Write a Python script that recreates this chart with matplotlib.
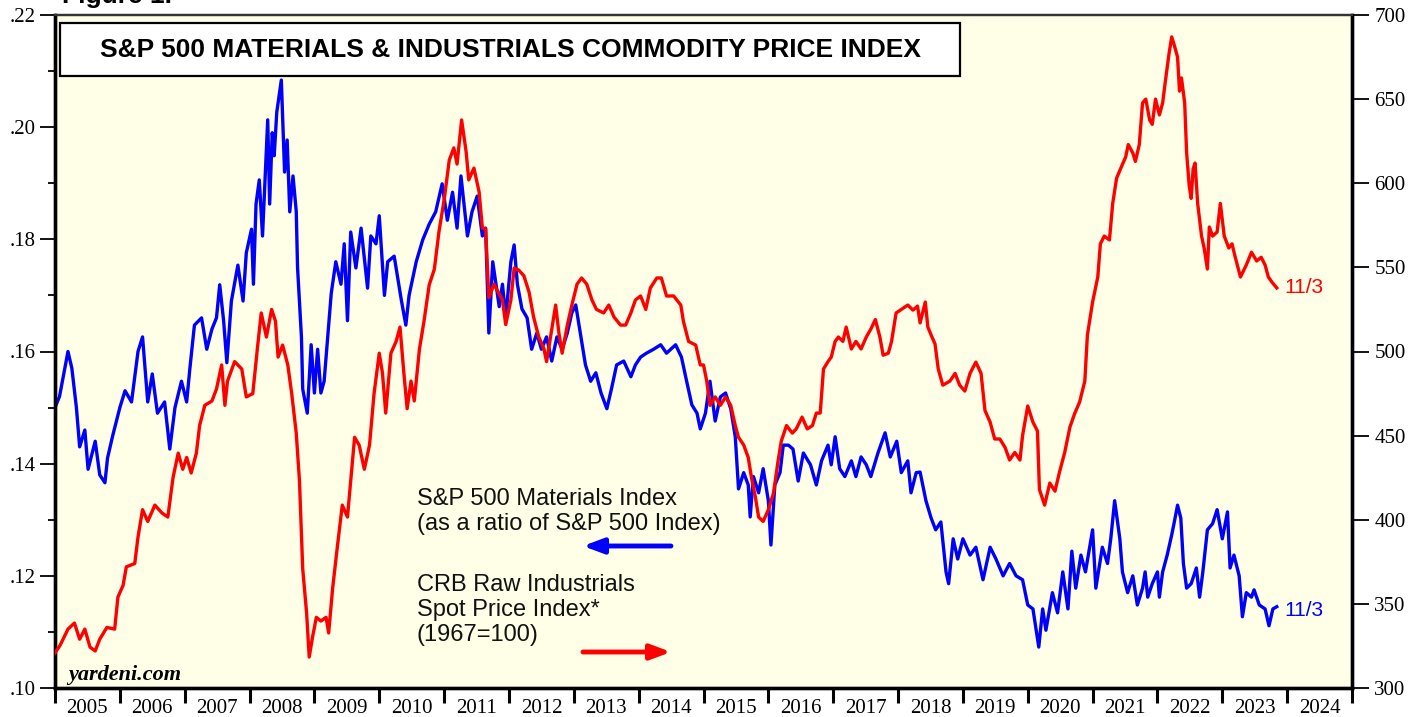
import numpy as np
import matplotlib.pyplot as plt
from matplotlib.ticker import FixedLocator, FuncFormatter, NullLocator
from matplotlib.patches import Rectangle

# S&P 500 Materials Index as ratio of S&P 500 (left axis)
blue_t = [
    2005.00, 2005.07, 2005.20, 2005.26, 2005.33, 2005.38, 2005.46, 2005.51, 2005.62, 2005.69, 2005.77, 2005.81, 2005.89,
    2006.00, 2006.08, 2006.18, 2006.28, 2006.35, 2006.43, 2006.50, 2006.58, 2006.69, 2006.77, 2006.85, 2006.95,
    2007.03, 2007.08, 2007.15, 2007.26, 2007.34, 2007.42, 2007.49, 2007.54, 2007.60, 2007.65, 2007.72, 2007.82, 2007.90, 2007.95,
    2008.03, 2008.06, 2008.10, 2008.15, 2008.20, 2008.28, 2008.31, 2008.35, 2008.38, 2008.42, 2008.49, 2008.54, 2008.58,
    2008.62, 2008.67, 2008.72, 2008.74, 2008.80, 2008.82, 2008.89, 2008.95,
    2009.00, 2009.05, 2009.10, 2009.15, 2009.20, 2009.26, 2009.33, 2009.41, 2009.46, 2009.51, 2009.56, 2009.64, 2009.72,
    2009.82, 2009.87, 2009.95,
    2010.00, 2010.08, 2010.13, 2010.23, 2010.34, 2010.41, 2010.46, 2010.57, 2010.67, 2010.77, 2010.87, 2010.97,
    2011.05, 2011.13, 2011.20, 2011.26, 2011.36, 2011.43, 2011.51, 2011.59, 2011.64, 2011.69, 2011.75, 2011.85, 2011.90, 2011.95,
    2012.03, 2012.08, 2012.13, 2012.20, 2012.28, 2012.35, 2012.43, 2012.50, 2012.58, 2012.66, 2012.74, 2012.82, 2012.90, 2012.97,
    2013.03, 2013.10, 2013.18, 2013.26, 2013.34, 2013.42, 2013.51, 2013.58, 2013.66, 2013.77, 2013.88, 2013.95,
    2014.03, 2014.12, 2014.23, 2014.34, 2014.43, 2014.57, 2014.66, 2014.74, 2014.82, 2014.90, 2014.95,
    2015.03, 2015.10, 2015.18, 2015.26, 2015.34, 2015.42, 2015.49, 2015.54, 2015.62, 2015.69, 2015.72, 2015.77, 2015.85, 2015.92,
    2016.00, 2016.04, 2016.10, 2016.18, 2016.23, 2016.31, 2016.38, 2016.46, 2016.54, 2016.65, 2016.74, 2016.82, 2016.92, 2016.97,
    2017.03, 2017.10, 2017.18, 2017.28, 2017.35, 2017.43, 2017.51, 2017.58, 2017.69, 2017.80, 2017.88, 2017.98,
    2018.05, 2018.15, 2018.20, 2018.28, 2018.34, 2018.43, 2018.51, 2018.58, 2018.66, 2018.74, 2018.78, 2018.85, 2018.92,
    2019.00, 2019.11, 2019.20, 2019.31, 2019.42, 2019.51, 2019.62, 2019.72, 2019.82, 2019.92,
    2020.00, 2020.08, 2020.17, 2020.23, 2020.28, 2020.38, 2020.46, 2020.54, 2020.62, 2020.68, 2020.74, 2020.82, 2020.89,
    2021.00, 2021.05, 2021.15, 2021.23, 2021.28, 2021.34, 2021.42, 2021.46, 2021.54, 2021.62, 2021.69, 2021.77, 2021.81,
    2021.85, 2021.92,
    2022.00, 2022.03, 2022.08, 2022.15, 2022.22, 2022.26, 2022.31, 2022.36, 2022.40, 2022.45, 2022.52, 2022.60, 2022.65,
    2022.70, 2022.77, 2022.85, 2022.92,
    2023.00, 2023.08, 2023.12, 2023.18, 2023.26, 2023.31, 2023.37, 2023.45, 2023.49, 2023.57, 2023.66, 2023.72, 2023.78, 2023.84,
]
blue_v = [
    .150, .152, .160, .157, .150, .143, .146, .139, .144, .138, .1366, .141, .145,
    .150, .153, .151, .160, .1626, .151, .156, .149, .151, .1426, .150, .1547,
    .151, .157, .1647, .166, .1604, .164, .166, .1719, .1655, .158, .169, .1754, .169, .1776,
    .1818, .172, .1863, .1906, .1806, .2013, .1863, .199, .1949, .2027, .2084, .192, .1977,
    .1849, .1913, .185, .175, .1626, .1533, .149, .1612,
    .1526, .1604, .1526, .1547, .1619, .1704, .176, .172, .1792, .1655, .1813, .1749, .182,
    .1713, .1806, .1792,
    .1842, .170, .176, .177, .1692, .1647, .170, .176, .1799, .1827, .1849, .1899,
    .1834, .1884, .182, .1913, .1806, .1849, .1877, .1806, .182, .1633, .176, .168, .172, .166,
    .176, .179, .172, .1676, .166, .1604, .1633, .1604, .1626, .1583, .1626, .1604, .1633, .1669,
    .1683, .1633, .1576, .1547, .1562, .1526, .1498, .1533, .1576, .1583, .1555, .1576,
    .159, .1597, .1604, .1612, .1597, .1612, .159, .1547, .1505, .149, .1462,
    .149, .1547, .1476, .1519, .1526, .1498, .1448, .1355, .1384, .1362, .1305, .1377, .1348, .1391,
    .1334, .1255, .1362, .1384, .1433, .1433, .1426, .1369, .1419, .1398, .1362, .1405, .1433, .1398,
    .1448, .1391, .1377, .1405, .1377, .1412, .1398, .1377, .1419, .1455, .1412, .144,
    .1384, .1405, .1348, .1384, .1385, .1334, .1303, .1282, .1296, .1207, .1186, .1266, .123,
    .1266, .1237, .1251, .1193, .1251, .123, .120, .1222, .120, .1193,
    .1148, .1141, .1073, .1141, .1103, .117, .1134, .1207, .1141, .1244, .1178, .1237, .1207,
    .1282, .1178, .1251, .1222, .1266, .1334, .1266, .1207, .117, .120, .1148, .1178, .1207,
    .1162, .1186,
    .1207, .1162, .1207, .1237, .1273, .1296, .1326, .1303, .1222, .1178, .1186, .1214, .1162,
    .1207, .1282, .1293, .1318,
    .1266, .1314, .1214, .1237, .120, .1127, .117, .1162, .1175, .1148, .1141, .1111, .1141, .1145,
]

# CRB Raw Industrials Spot Price Index (right axis)
red_t = [
    2005.00, 2005.08, 2005.20, 2005.30, 2005.38, 2005.46, 2005.54, 2005.62, 2005.69, 2005.80, 2005.92, 2005.97,
    2006.05, 2006.10, 2006.23, 2006.28, 2006.35, 2006.43, 2006.54, 2006.65, 2006.74, 2006.82, 2006.90, 2006.97,
    2007.03, 2007.10, 2007.18, 2007.23, 2007.31, 2007.42, 2007.49, 2007.57, 2007.62, 2007.66, 2007.77, 2007.88, 2007.95,
    2008.05, 2008.12, 2008.18, 2008.26, 2008.34, 2008.40, 2008.44, 2008.51, 2008.59, 2008.65, 2008.72, 2008.77, 2008.82,
    2008.88, 2008.92, 2008.97,
    2009.03, 2009.10, 2009.18, 2009.22, 2009.28, 2009.35, 2009.43, 2009.51, 2009.56, 2009.62, 2009.69, 2009.77, 2009.85, 2009.92,
    2010.00, 2010.05, 2010.10, 2010.18, 2010.26, 2010.32, 2010.38, 2010.43, 2010.49, 2010.54, 2010.62, 2010.69, 2010.77,
    2010.85, 2010.92,
    2011.00, 2011.08, 2011.15, 2011.20, 2011.27, 2011.34, 2011.38, 2011.46, 2011.54, 2011.59, 2011.64, 2011.69, 2011.77,
    2011.90, 2011.95,
    2012.03, 2012.08, 2012.15, 2012.23, 2012.31, 2012.38, 2012.46, 2012.54, 2012.58, 2012.65, 2012.72, 2012.77, 2012.82,
    2012.90, 2012.97,
    2013.05, 2013.12, 2013.20, 2013.28, 2013.35, 2013.46, 2013.54, 2013.62, 2013.72, 2013.80, 2013.88, 2013.95,
    2014.03, 2014.11, 2014.18, 2014.28, 2014.35, 2014.43, 2014.54, 2014.65, 2014.69, 2014.77, 2014.88, 2014.95,
    2015.00, 2015.05, 2015.10, 2015.18, 2015.26, 2015.34, 2015.42, 2015.49, 2015.54, 2015.62, 2015.69, 2015.74, 2015.80,
    2015.85, 2015.92,
    2016.00, 2016.08, 2016.15, 2016.20, 2016.28, 2016.37, 2016.43, 2016.52, 2016.60, 2016.68, 2016.74, 2016.80, 2016.85,
    2016.92, 2016.97,
    2017.03, 2017.08, 2017.15, 2017.20, 2017.28, 2017.35, 2017.43, 2017.51, 2017.58, 2017.65, 2017.72, 2017.77, 2017.85,
    2017.90, 2017.97,
    2018.05, 2018.15, 2018.23, 2018.30, 2018.34, 2018.42, 2018.46, 2018.51, 2018.57, 2018.62, 2018.69, 2018.80, 2018.88, 2018.95,
    2019.03, 2019.11, 2019.20, 2019.28, 2019.34, 2019.42, 2019.49, 2019.57, 2019.65, 2019.72, 2019.80, 2019.88, 2019.92,
    2020.00, 2020.08, 2020.15, 2020.18, 2020.26, 2020.34, 2020.42, 2020.49, 2020.57, 2020.65, 2020.72, 2020.80, 2020.88, 2020.92,
    2021.00, 2021.08, 2021.12, 2021.18, 2021.26, 2021.31, 2021.37, 2021.43, 2021.51, 2021.55, 2021.62, 2021.66, 2021.72,
    2021.77, 2021.82, 2021.88, 2021.92, 2021.97,
    2022.03, 2022.08, 2022.12, 2022.18, 2022.22, 2022.26, 2022.31, 2022.34, 2022.37, 2022.42, 2022.45, 2022.49, 2022.52,
    2022.55, 2022.58, 2022.62, 2022.68, 2022.72, 2022.77, 2022.80, 2022.85, 2022.92, 2022.97,
    2023.03, 2023.10, 2023.15, 2023.20, 2023.28, 2023.37, 2023.45, 2023.53, 2023.60, 2023.66, 2023.71, 2023.77, 2023.84,
]
red_v = [
    320.8, 325.5, 335, 338.6, 329, 335, 324.3, 322, 329, 336, 335, 354,
    361, 372, 374, 389.7, 406, 399, 408.7, 404, 401.6, 425, 439.6, 430,
    437, 427.8, 439.6, 456, 468, 470.6, 477.7, 492, 468, 482.4, 494, 489.6, 473,
    475, 501.5, 522.9, 508.6, 525, 518, 496.7, 503.8, 492, 475, 451.5, 423, 370.7,
    344.5, 318.4, 330,
    342, 339.8, 342, 332.7, 358.8, 382.6, 408.7, 401.6, 423, 449, 444.4, 430, 444.4, 475,
    499, 487, 463.4, 499, 506, 514.5, 487, 466, 482.4, 470.6, 501.5, 518, 539.5,
    549, 571,
    590, 613.8, 621, 611.4, 637.6, 618.6, 602, 609, 594.8, 573.4, 573, 532, 540,
    530.6, 516,
    530.6, 549.6, 548.4, 545, 535.3, 520.5, 508.6, 501.5, 494, 511, 527.6, 511, 499,
    515.7, 527.6,
    540, 543.7, 540, 530.6, 525, 522.9, 527.6, 520.5, 515.7, 515.7, 522.9, 530.6,
    533, 525, 537.7, 543.7, 543.7, 533, 533, 527.6, 518, 506, 503.8, 492,
    492, 482.4, 468, 473, 468, 473, 468, 456, 449, 444.4, 437, 425, 413.5,
    401.6, 399,
    406, 415.9, 435, 446.8, 456, 451.5, 454, 461, 454, 456, 463.4, 463.4, 489.6,
    494, 496.7,
    506, 508.6, 506, 514.5, 501.5, 506, 501.5, 508.6, 513.3, 519, 508.6, 497.8, 499,
    506, 522.9,
    525, 527.6, 524.6, 527, 517, 529.4, 514.5, 509.8, 504.5, 489.6, 480, 482.4, 487, 480,
    476.5, 487, 493.7, 487, 465, 458, 448, 448, 443, 435.5, 440, 435.5, 450,
    467.6, 458, 452.7, 418, 408.7, 421.8, 417, 428.4, 440, 455, 462.8, 470, 482.4, 509.8,
    529.4, 544.3, 564, 568.6, 566.3, 588, 603, 608.5, 615.6, 623, 618, 613, 623,
    647.7, 650, 637.6, 635, 650,
    640.6, 647.7, 660, 677.4, 687, 682, 675, 654.8, 662.6, 647.7, 618, 598.4, 591,
    608.5, 612, 588, 568.6, 561.5, 549, 574, 568.6, 571, 588,
    568.6, 561.5, 564, 556, 544.3, 551.4, 559, 553.8, 556, 551.4, 544.3, 541, 537.8,
]

years = list(range(2005, 2025))
left_ticks = [0.10, 0.12, 0.14, 0.16, 0.18, 0.20, 0.22]
right_ticks = [300, 350, 400, 450, 500, 550, 600, 650, 700]
legend_lines = ["S&P 500 Materials Index", "(as a ratio of S&P 500 Index)",
                "CRB Raw Industrials", "Spot Price Index*", "(1967=100)"]

BG = "#fffee6"
W, H = 1422, 717
X0, X1, Y0, Y1 = 55, 1352, 15, 688  # plot area in pixels


def px(x, y):
    # pixel -> axes fraction
    return (x - X0) / (X1 - X0), (Y1 - y) / (Y1 - Y0)


plt.rcParams["font.family"] = "Liberation Serif"

fig = plt.figure(figsize=(W / 100, H / 100), dpi=100)
ax = fig.add_axes([X0 / W, 1 - Y1 / H, (X1 - X0) / W, (Y1 - Y0) / H])
ax.set_facecolor(BG)
ax2 = ax.twinx()

ax.plot(blue_t, blue_v, color="#0000ff", lw=2.4, zorder=3)
ax2.plot(red_t, red_v, color="#ff0000", lw=2.4, zorder=3)

ax.set_xlim(2005, 2025)
ax.set_ylim(0.10, 0.22)
ax2.set_ylim(300, 700)

# left axis
ax.yaxis.set_major_locator(FixedLocator(left_ticks))
ax.yaxis.set_minor_locator(FixedLocator(np.arange(0.10, 0.2201, 0.01)))
ax.yaxis.set_major_formatter(FuncFormatter(lambda v, p: ".%02d" % round(v * 100)))
ax.tick_params(axis="y", which="major", direction="out", length=11, width=1.3, labelsize=15, pad=3)
ax.tick_params(axis="y", which="minor", direction="out", length=5, width=1.3)

# right axis
ax2.yaxis.set_major_locator(FixedLocator(right_ticks))
ax2.yaxis.set_minor_locator(NullLocator())
ax2.tick_params(axis="y", which="major", direction="out", length=12, width=1.3, labelsize=15, pad=4)

# bottom axis: ticks at year boundaries, labels in the middle of each year
ax.xaxis.set_major_locator(FixedLocator(years + [2025]))
ax.xaxis.set_minor_locator(FixedLocator([y + 0.5 for y in years]))
ax.xaxis.set_major_formatter(FuncFormatter(lambda v, p: ""))
ax.xaxis.set_minor_formatter(FuncFormatter(lambda v, p: "%d" % int(v)))
ax.tick_params(axis="x", which="major", direction="out", length=11, width=2.2)
ax.tick_params(axis="x", which="minor", length=0, labelsize=15, pad=8)

for a in (ax, ax2):
    a.spines["left"].set_linewidth(2.4)
    a.spines["bottom"].set_linewidth(2.4)
    a.spines["right"].set_linewidth(2.4)
    a.spines["top"].set_linewidth(1.6)
    a.spines["top"].set_color("#333333")

# title box
bx0, by0 = px(60, 76)
bx1, by1 = px(960, 23)
ax2.add_patch(Rectangle((bx0, by0), bx1 - bx0, by1 - by0, transform=ax2.transAxes,
                        facecolor="white", edgecolor="black", lw=1.6, zorder=5))
tx, ty = px(510, 50)
ax2.text(tx, ty, "S&P 500 MATERIALS & INDUSTRIALS COMMODITY PRICE INDEX", transform=ax2.transAxes,
         ha="center", va="center", fontsize=19, fontweight="bold", family="Liberation Sans", zorder=6)

# legend text + arrows
sans = dict(family="Liberation Sans", fontsize=17, color="#111111", transform=ax2.transAxes,
            ha="left", va="baseline", zorder=6)
for label, yb in zip(legend_lines, [505, 530, 591, 616, 641]):
    lx, ly = px(417, yb)
    ax2.text(lx, ly, label, **sans)

arrow = "-|>,head_length=1.2,head_width=0.45"
ax2.annotate("", xy=px(583, 546), xytext=px(671, 546), xycoords="axes fraction",
             arrowprops=dict(arrowstyle=arrow, color="#0000ff", lw=3.5, shrinkA=0, shrinkB=0))
ax2.annotate("", xy=px(671, 652), xytext=px(583, 652), xycoords="axes fraction",
             arrowprops=dict(arrowstyle=arrow, color="#ff0000", lw=3.5, shrinkA=0, shrinkB=0))

# end-date labels
ax2.text(red_t[-1] + 0.12, red_v[-1], "11/3", color="#ff0000", fontsize=15,
         family="Liberation Sans", ha="left", va="center")
ax.text(blue_t[-1] + 0.12, 0.1138, "11/3", color="#0000ff", fontsize=15,
        family="Liberation Sans", ha="left", va="center", zorder=6)

# source
sx, sy = px(68, 680)
ax2.text(sx, sy, "yardeni.com", transform=ax2.transAxes, fontsize=16, fontweight="bold",
         fontstyle="italic", family="Liberation Serif", ha="left", va="baseline", zorder=6)

# figure label, cut off at the top edge as in the source image
fig.text(62 / W, 1 - 3 / H, "Figure 1.", fontsize=19, fontweight="bold", family="Liberation Sans",
         ha="left", va="baseline")

fig.savefig("out.png", dpi=100, facecolor="white")
